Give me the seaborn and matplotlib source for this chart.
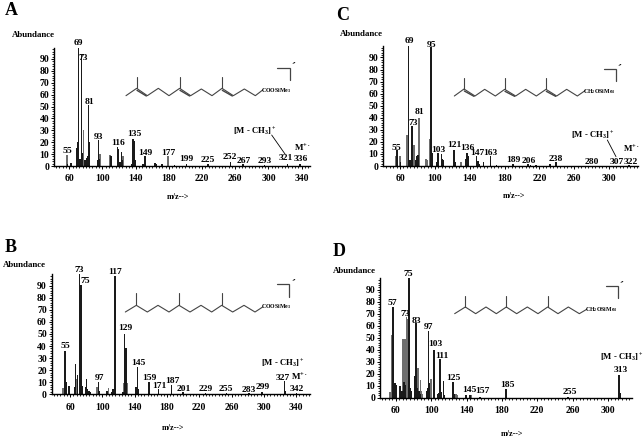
import matplotlib
matplotlib.use("Agg")
import matplotlib.pyplot as plt
from matplotlib.lines import Line2D
from matplotlib.ticker import MultipleLocator
import pandas as pd
import seaborn as sns

W, H = 644, 438
SERIF = ["Liberation Serif", "DejaVu Serif"]

# ---- peak data: m/z and abundance (dark and grey peaks) ----
a_dark_mz = [56, 60, 67, 68, 69, 71, 73, 74, 77, 79, 80, 81, 82, 92, 93, 94, 108, 109, 116, 117, 119, 120, 121, 122,
             133, 134, 135, 136, 137, 138, 147, 149, 161, 163, 170, 185, 199, 225, 252, 267, 293, 321, 336]
a_dark_ab = [2, 2.5, 15, 20, 100, 6, 93, 11, 5, 7, 8, 51, 20, 5, 22, 6, 8, 3, 16, 14, 3, 3, 12, 5,
             2, 4, 23, 21, 5, 3, 1.5, 8, 2.5, 2, 2, 1, 2, 2, 3, 2, 1, 2, 2]
a_grey_mz = [55, 56, 75, 78, 95, 107, 123, 177]
a_grey_ab = [9, 9.5, 30, 5, 10, 9, 8, 8]

b_dark_mz = [55, 56, 57, 60, 67, 68, 71, 73, 75, 76, 77, 81, 82, 83, 85, 87, 97, 98, 107, 113, 115, 117, 118,
             127, 129, 130, 131, 143, 145, 146, 159, 160, 171, 187, 201, 229, 255, 283, 299, 327, 328, 342]
b_dark_ab = [36, 33, 10, 7, 6, 25, 16, 100, 91, 7, 5, 6, 13, 4, 3, 2, 10, 3, 3, 2, 4, 98, 10,
             2, 50, 18, 38, 6, 23, 4, 10, 2, 4, 8, 1.5, 1, 1, 1, 2, 11, 3, 1]
b_grey_mz = [53, 69, 70, 74, 95, 96, 109, 128, 130, 132]
b_grey_ab = [5, 13, 13, 90, 6, 5, 5, 9, 9, 9]

c_dark_mz = [56, 60, 69, 71, 73, 77, 79, 80, 95, 96, 102, 103, 107, 108, 109, 121, 122, 123,
             135, 136, 137, 147, 148, 149, 150, 155, 163, 170, 189, 206, 209, 215, 231, 238, 322]
c_dark_ab = [13, 3, 100, 5, 33, 5, 8, 9, 99, 11, 3, 11, 10, 6, 5, 13, 5, 3,
             6, 11, 8, 8, 3, 4, 2, 3, 8, 1, 2, 2, 1, 1, 1.5, 3, 0.5]
c_grey_mz = [55, 59, 67, 75, 81, 89, 91, 93, 129]
c_grey_ab = [8, 8, 26, 17, 40, 6, 5, 22, 3]

d_dark_mz = [56, 57, 58, 59, 60, 65, 67, 69, 71, 75, 76, 77, 81, 82, 83, 84, 86, 87, 95, 96, 97, 98,
             103, 108, 109, 110, 111, 114, 115, 125, 126, 139, 144, 155, 185, 255, 313, 314]
d_dark_ab = [20, 76, 8, 12, 11, 10, 6, 13, 11, 100, 8, 6, 13, 18, 62, 8, 6, 3, 6, 8, 56, 12,
             40, 3, 4, 32, 5, 14, 2, 13, 3, 2, 2, 1, 7, 1, 19, 4]
d_grey_mz = [53, 55, 68, 70, 72, 73, 85, 88, 89, 90, 99, 100, 127, 128, 129, 140, 145]
d_grey_ab = [5, 52, 49, 49, 67, 66, 25, 15, 6, 3, 14, 16, 3, 3, 2, 2, 2]

# ---- peak labels ----
a_labels = ["55", "69", "73", "81", "93", "116", "135", "149", "177", "199", "225", "252", "267", "293", "321", "336"]
b_labels = ["55", "73", "75", "97", "117", "129", "145", "159", "171", "187", "201", "229", "255", "283", "299", "327", "342"]
c_labels = ["55", "69", "73", "81", "95", "103", "121", "136", "147", "163", "189", "206", "238", "280", "307", "322"]
d_labels = ["57", "73", "75", "83", "97", "103", "111", "125", "145", "157", "185", "255", "313"]

# ---- label centres, in reference pixels x3, relative to the panel crop ----
a_label_xy = [(202, 452), (236, 130), (249, 173), (267, 306), (294, 410), (354, 429), (403, 402), (436, 460),
              (505, 458), (558, 478), (622, 479), (689, 472), (730, 483), (795, 484), (858, 473), (903, 477)]
b_label_xy = [(195, 363), (237, 134), (255, 168), (297, 458), (346, 142), (375, 310), (414, 414), (448, 460),
              (477, 482), (516, 468), (551, 493), (616, 492), (679, 492), (745, 496), (789, 486), (849, 458), (890, 492)]
c_label_xy = [(230, 443), (269, 124), (279, 369), (297, 336), (334, 134), (354, 449), (402, 435), (441, 444),
              (472, 460), (512, 458), (581, 481), (625, 483), (708, 477), (814, 486), (889, 485), (931, 485)]
d_label_xy = [(218, 235), (256, 266), (265, 147), (290, 288), (325, 305), (347, 357), (366, 394), (400, 458),
              (449, 496), (488, 498), (561, 481), (751, 502), (903, 435)]

# ---- molecule skeletons, same units ----
a_chain = [(378, 287), (410, 265), (442, 287), (475, 265), (507, 287), (539, 265), (572, 287), (604, 267), (636, 287),
           (666, 265), (700, 287), (733, 267), (766, 287), (788, 270)]
c_chain = [(403, 288), (432, 267), (465, 288), (494, 268), (526, 288), (554, 268), (587, 288), (617, 268), (649, 288),
           (678, 268), (710, 288), (740, 268), (772, 288), (795, 272)]
b_chain = [(376, 261), (409, 241), (442, 261), (474, 241), (507, 261), (537, 241), (570, 261), (603, 241), (635, 261),
           (665, 241), (698, 261), (732, 241), (765, 261), (788, 246)]
d_chain = [(404, 266), (436, 246), (467, 266), (498, 246), (529, 266), (559, 246), (590, 266), (622, 246), (654, 266),
           (683, 246), (714, 266), (745, 246), (778, 266), (800, 253)]

PANELS = [
    dict(name="A", off=(0, 0), dark=(a_dark_mz, a_dark_ab), grey=(a_grey_mz, a_grey_ab), labels=a_labels,
         label_xy=a_label_xy, shift=2, box=(54.3, 310, 166, 47.7), xlim=(42, 350), xticks=range(60, 341, 40),
         chain=a_chain, branch_top=232, double=True, group="COOSiMe$_3$", group_xy=(830, 271),
         bracket=[(832, 203), (870, 203), (870, 240)], charge=(882, 190), letter=(34, 32), abund=(99, 106),
         xlabel=(533, 592), ion="[M - CH$_3$]$^+$", ion_xy=(764, 395), lead=[(815, 405), (855, 462)],
         mol="M$^{+\\bullet}$", mol_xy=(907, 445)),
    dict(name="B", off=(0, 225), dark=(b_dark_mz, b_dark_ab), grey=(b_grey_mz, b_grey_ab), labels=b_labels,
         label_xy=b_label_xy, shift=-1.5, box=(51.7, 310, 394.3, 274.3), xlim=(37.3, 357), xticks=range(60, 341, 40),
         chain=b_chain, branch_top=205, double=False, group="COOSiMe$_3$", group_xy=(830, 246),
         bracket=[(832, 178), (868, 178), (868, 215)], charge=(882, 165), letter=(32, 66), abund=(73, 121),
         xlabel=(518, 608), ion="[M - CH$_3$]$^+$", ion_xy=(848, 416), lead=None,
         mol="M$^{+\\bullet}$", mol_xy=(898, 457)),
    dict(name="C", off=(320, 0), dark=(c_dark_mz, c_dark_ab), grey=(c_grey_mz, c_grey_ab), labels=c_labels,
         label_xy=c_label_xy, shift=0.7, box=(383, 638, 166, 46), xlim=(40.5, 333), xticks=range(60, 301, 40),
         chain=c_chain, branch_top=235, double=True, group="CH$_2$OSiMe$_3$", group_xy=(838, 275),
         bracket=[(852, 206), (887, 206), (887, 242)], charge=(900, 195), letter=(69, 46), abund=(124, 101),
         xlabel=(581, 588), ion="[M - CH$_3$]$^+$", ion_xy=(819, 407), lead=[(862, 420), (888, 470)],
         mol="M$^{+\\bullet}$", mol_xy=(933, 449)),
    dict(name="D", off=(320, 225), dark=(d_dark_mz, d_dark_ab), grey=(d_grey_mz, d_grey_ab), labels=d_labels,
         label_xy=d_label_xy, shift=0, box=(380, 631.7, 397.7, 278.3), xlim=(42, 327), xticks=range(60, 301, 40),
         chain=d_chain, branch_top=213, double=False, group="CH$_2$OSiMe$_3$", group_xy=(845, 253),
         bracket=[(859, 183), (895, 183), (895, 220)], charge=(907, 172), letter=(56, 80), abund=(102, 138),
         xlabel=(575, 626), ion="[M - CH$_3$]$^+$", ion_xy=(904, 397), lead=None, mol=None, mol_xy=None),
]

sns.set_theme(style="ticks")
plt.rcParams["font.family"] = SERIF
plt.rcParams["mathtext.fontset"] = "custom"
plt.rcParams["mathtext.rm"] = "Liberation Serif:bold"
plt.rcParams["mathtext.default"] = "rm"

fig = plt.figure(figsize=(W / 100, H / 100), dpi=100, facecolor="white")


def fx(p, x):
    return (p["off"][0] + x / 3) / W


def fy(p, y):
    return 1 - (p["off"][1] + y / 3) / H


def label(p, s, xy, size=6.8, weight="bold"):
    fig.text(fx(p, xy[0]), fy(p, xy[1]), s, ha="center", va="center", fontsize=size,
             fontweight=weight, color="black")


def poly(p, pts, color="#444444", lw=0.8):
    fig.add_artist(Line2D([fx(p, x) for x, _ in pts], [fy(p, y) for _, y in pts],
                          color=color, lw=lw, transform=fig.transFigure, solid_joinstyle="miter"))


for p in PANELS:
    left, right, y0, top = p["box"]
    ax = fig.add_axes([left / W, 1 - y0 / H, (right - left) / W, (y0 - top) / H])
    ax.patch.set_alpha(0)
    table = pd.concat([
        pd.DataFrame({"mz": p["grey"][0], "abundance": p["grey"][1], "kind": "grey"}),
        pd.DataFrame({"mz": p["dark"][0], "abundance": p["dark"][1], "kind": "dark"}),
    ])
    table["mz"] = table["mz"] + p["shift"]
    sns.barplot(data=table, x="mz", y="abundance", hue="kind", hue_order=["grey", "dark"],
                palette={"grey": "#6e6e6e", "dark": "#1a1a1a"}, native_scale=True, dodge=False,
                width=1.9, saturation=1, legend=False, linewidth=0, ax=ax)
    ax.set_xlim(*p["xlim"])
    ax.set_ylim(0, 99.5)
    ax.set_xticks(list(p["xticks"]))
    ax.set_yticks(range(0, 91, 10))
    ax.xaxis.set_minor_locator(MultipleLocator(4))
    ax.yaxis.set_minor_locator(MultipleLocator(2))
    ax.tick_params(axis="both", which="major", length=2, width=0.7, labelsize=7, pad=1.5, color="black",
                   labelcolor="black")
    ax.tick_params(axis="both", which="minor", length=1.2, width=0.6, color="black")
    ax.tick_params(axis="x", which="major", pad=4)
    for t in ax.get_xticklabels() + ax.get_yticklabels():
        t.set_fontweight("bold")
    ax.set_xlabel("")
    ax.set_ylabel("")
    sns.despine(ax=ax)
    for side in ("left", "bottom"):
        ax.spines[side].set_linewidth(1.0)
        ax.spines[side].set_color("black")

    for s, xy in zip(p["labels"], p["label_xy"]):
        label(p, s, xy)

    chain = p["chain"]
    poly(p, chain)
    for i in (1, 5, 9):
        poly(p, [chain[i], (chain[i][0], p["branch_top"])])
        if p["double"]:
            a, b = chain[i], chain[i + 1]
            poly(p, [(a[0] + 1, a[1] + 6), (b[0] - 3, b[1] + 1)], lw=1.0)
    label(p, p["group"], p["group_xy"], size=4.2)
    poly(p, p["bracket"], lw=0.9)
    label(p, "+\u2022", p["charge"], size=3.5)

    fig.text(fx(p, p["letter"][0]), fy(p, p["letter"][1]), p["name"], ha="center", va="center",
             fontsize=13, fontweight="bold", color="black")
    label(p, "Abundance", p["abund"], size=6.4)
    label(p, "m/z-->", p["xlabel"], size=5.8)
    label(p, p["ion"], p["ion_xy"], size=6.2)
    if p["lead"]:
        poly(p, p["lead"], color="black", lw=0.6)
    if p["mol"]:
        label(p, p["mol"], p["mol_xy"], size=6.5)

fig.savefig("out.png", dpi=100, facecolor="white")
